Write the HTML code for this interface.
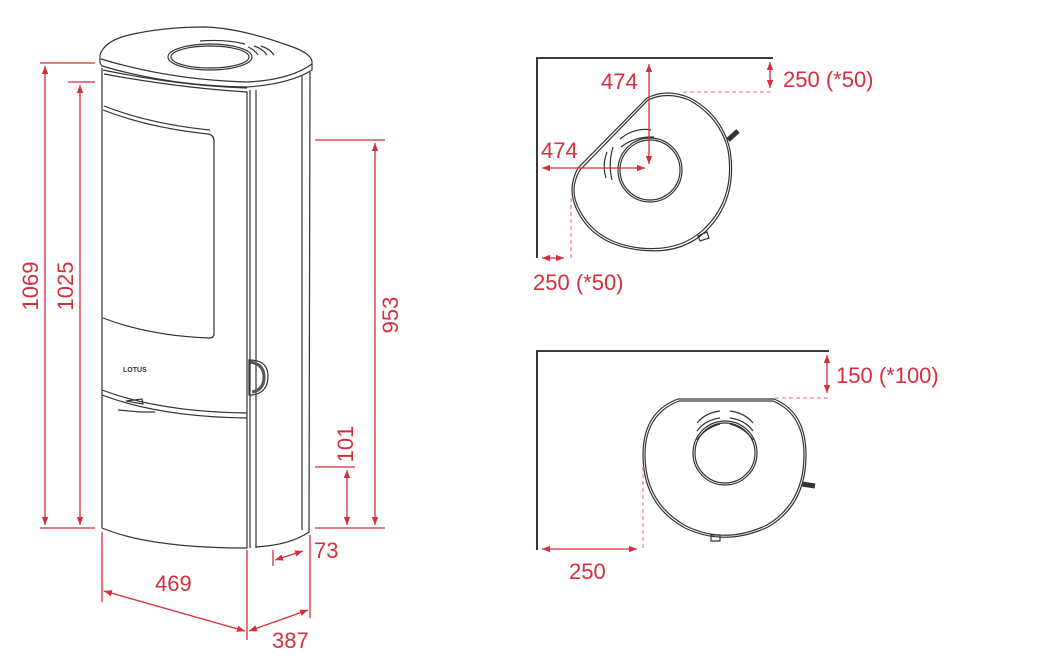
<!DOCTYPE html>
<html><head><meta charset="utf-8"><style>
html,body{margin:0;padding:0;background:#fff;}
svg{display:block;}
text{font-family:"Liberation Sans",sans-serif;fill:#d42f3a;font-size:22px;}
</style></head><body>
<svg width="1060" height="661" viewBox="0 0 1060 661" xmlns="http://www.w3.org/2000/svg">
<defs>
<marker id="a" viewBox="0 0 10 10" refX="10" refY="5" markerWidth="8" markerHeight="8" orient="auto-start-reverse" markerUnits="userSpaceOnUse"><path d="M0,1 L10,5 L0,9 z" fill="#d42f3a"/></marker>
</defs>
<g fill="none" stroke="#333" stroke-width="1.2">
<path d="M100,55 Q104,42 125,36 Q160,27 205,27 Q240,28 290,46 Q313,54 312,63 L312,70 Q290,84 247,87 Q170,86 102,66 L100,63 Z"/>
<path d="M101,59 Q170,80 247,82 Q290,80 312,64"/>
<ellipse cx="210" cy="57" rx="42" ry="13"/>
<ellipse cx="210" cy="57" rx="39" ry="11"/>
<path d="M200,41 Q225,39 245,44 M248,47 Q255,50 258,55 M254,46 Q263,49 267,55 M261,46 Q270,49 274,55"/>
<path d="M102,68 L102,528 Q150,548 247,548 L247,92 Q180,88 104,74"/>
<path d="M250,90 L250,548 M256,90 L256,548 M256,547 Q290,545 309,532 L310,72"/>
<path d="M302,76 L302,530"/>
<path d="M103,70 Q180,86 247,88"/>
<path d="M103,110 Q150,128 208,134 Q214,135 214,141 L214,334 Q214,338 209,338 Q150,336 103,318"/>
<path d="M104,106 Q150,124 210,130"/>
<path d="M102,390 Q160,412 247,413"/>
<path d="M102,395 Q160,417 247,418"/>
<path d="M126,401 L142,399 L143,404 Z"/>
<path d="M118,410 L140,412 L155,412"/>
<path d="M249,360 Q268,360 268,376 Q268,393 252,395 L249,395 Z"/>
</g>
<path d="M250,362 Q264,364 264,377 Q264,390 252,392" stroke="#555" stroke-width="3" fill="none"/>
<text x="123" y="372" style="font-size:7px;fill:#333;font-weight:bold">LOTUS</text>
<g stroke="#d42f3a" stroke-width="1.3" fill="none">
<path d="M40,63 H95 M40,528 H95 M68,82 H95 M315,140 H385 M315,528 H385 M315,467 H355"/>
<path d="M45,66 V525" marker-start="url(#a)" marker-end="url(#a)"/>
<path d="M80,85 V525" marker-start="url(#a)" marker-end="url(#a)"/>
<path d="M375,143 V525" marker-start="url(#a)" marker-end="url(#a)"/>
<path d="M347,470 V525" marker-start="url(#a)" marker-end="url(#a)"/>
<path d="M102,532 V602 M247,550 V640 M310,535 V618 M273,550 V566"/>
<path d="M104,591 L245,631" marker-start="url(#a)" marker-end="url(#a)"/>
<path d="M249,631 L308,610" marker-start="url(#a)" marker-end="url(#a)"/>
<path d="M275,560 L303,551" marker-start="url(#a)" marker-end="url(#a)"/>
</g>
<text transform="translate(38,286) rotate(-90)" text-anchor="middle">1069</text>
<text transform="translate(73,286) rotate(-90)" text-anchor="middle">1025</text>
<text transform="translate(398,315) rotate(-90)" text-anchor="middle">953</text>
<text transform="translate(353,444) rotate(-90)" text-anchor="middle">101</text>
<text x="155" y="591">469</text>
<text x="272" y="648">387</text>
<text x="314" y="558">73</text>

<path d="M537,258 V58 H773" stroke="#222" stroke-width="1.8" fill="none"/>
<g fill="none" stroke="#333" stroke-width="1.2">
<path d="M647,98 Q667,88 690,98 Q722,115 730,150 Q738,200 705,232 Q680,255 640,250 Q595,245 578,212 Q566,190 578,168 Z"/>
<path d="M648,100 Q667,91 689,100 Q720,117 728,150 Q736,199 703,230 Q679,252 640,248 Q597,243 580,211 Q568,190 580,170 Z"/>
<circle cx="650" cy="170" r="32"/><circle cx="650" cy="170" r="30"/>
<path d="M620,139 Q635,127 651,130 M621,147 Q635,136 654,137"/>
<path d="M607,152 Q602,165 606,178 M613,147 Q608,164 612,180"/>
<path d="M698,236 L707,232 L709,238 L700,241 Z"/>
</g>
<path d="M728,140 L738,131" stroke="#333" stroke-width="5"/>
<g stroke="#d42f3a" stroke-width="1.3" fill="none">
<path d="M649,64 V164" marker-start="url(#a)" marker-end="url(#a)"/>
<path d="M542,168 H645" marker-start="url(#a)" marker-end="url(#a)"/>
<path d="M770,62 V88" marker-start="url(#a)" marker-end="url(#a)"/>
<path d="M542,258 H564" marker-start="url(#a)" marker-end="url(#a)"/>
<path d="M683,92 H773 M571,198 V258" stroke-dasharray="4,3" stroke="#e48890"/>
</g>
<text x="601" y="89">474</text>
<text x="541" y="158">474</text>
<text x="783" y="87">250 (*50)</text>
<text x="533" y="290">250 (*50)</text>

<path d="M537,550 V351 H829" stroke="#222" stroke-width="1.8" fill="none"/>
<g fill="none" stroke="#333" stroke-width="1.2">
<path d="M678,399 H774 Q806,412 806,455 Q806,505 768,527 Q725,547 685,528 Q643,505 643,455 Q643,412 678,399 Z"/>
<path d="M679,401 H773 Q804,414 804,455 Q804,503 767,525 Q725,545 686,526 Q645,503 645,455 Q645,414 679,401 Z"/>
<circle cx="725" cy="453" r="32"/><circle cx="725" cy="453" r="30"/>
<path d="M697,423 Q705,413 720,411 M697,431 Q705,420 720,418 M697,440 Q705,428 720,424"/>
<path d="M730,411 Q745,413 753,423 M730,418 Q745,420 753,431 M730,424 Q745,428 753,440"/>
<path d="M711,535 H720 V541 H711 Z"/>
</g>
<path d="M802,484 L815,486" stroke="#333" stroke-width="5"/>
<g stroke="#d42f3a" stroke-width="1.3" fill="none">
<path d="M827,355 V393" marker-start="url(#a)" marker-end="url(#a)"/>
<path d="M542,549 H637" marker-start="url(#a)" marker-end="url(#a)"/>
<path d="M775,398 H830 M643,467 V550" stroke-dasharray="4,3" stroke="#e48890"/>
</g>
<text x="836" y="383">150 (*100)</text>
<text x="569" y="579">250</text>
</svg>
</body></html>
